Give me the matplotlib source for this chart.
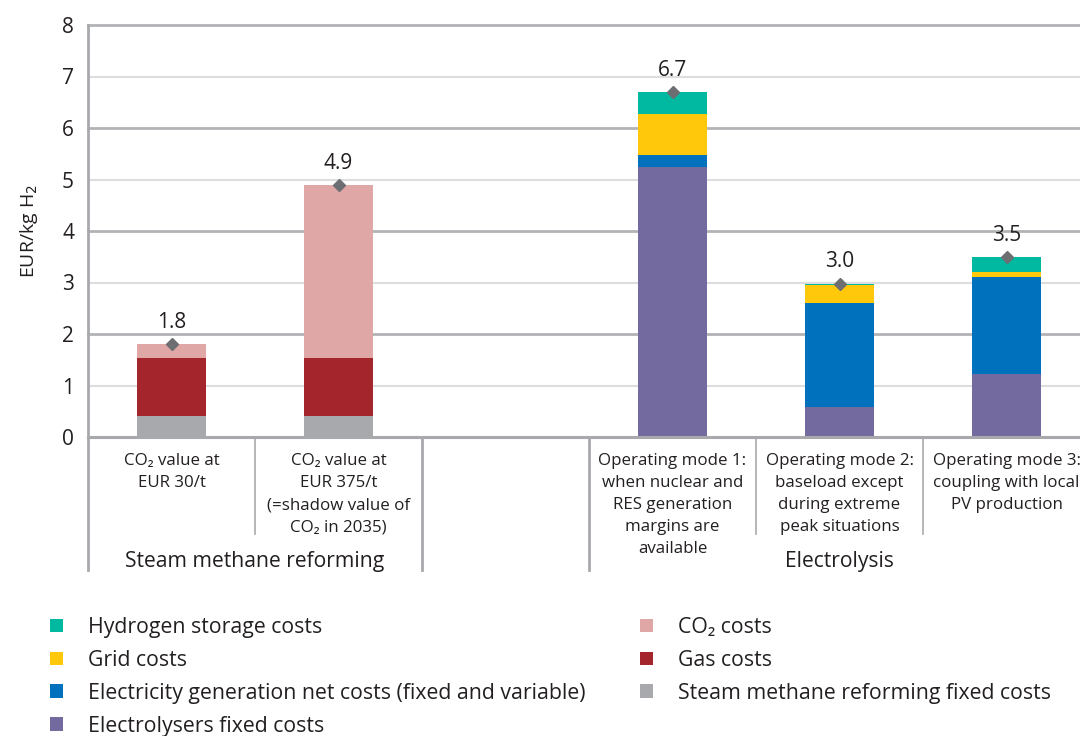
import matplotlib
matplotlib.use("Agg")
import matplotlib.pyplot as plt
from matplotlib.patches import Patch
import numpy as np

plt.rcParams['font.family'] = ['Open Sans', 'DejaVu Sans']

categories = ["CO₂ value at\nEUR 30/t",
              "CO₂ value at\nEUR 375/t\n(=shadow value of\nCO₂ in 2035)",
              "",
              "Operating mode 1:\nwhen nuclear and\nRES generation\nmargins are\navailable",
              "Operating mode 2:\nbaseload except\nduring extreme\npeak situations",
              "Operating mode 3:\ncoupling with local\nPV production"]
groups = ["Steam methane reforming", "Electrolysis"]

smr_fixed     = [0.40, 0.40, 0, 0,    0,    0]
gas           = [1.13, 1.13, 0, 0,    0,    0]
co2           = [0.27, 3.37, 0, 0,    0,    0]
electrolysers = [0,    0,    0, 5.25, 0.58, 1.23]
elec_gen      = [0,    0,    0, 0.22, 2.02, 1.87]
grid          = [0,    0,    0, 0.81, 0.35, 0.10]
storage       = [0,    0,    0, 0.42, 0.03, 0.30]
totals        = [1.8, 4.9, None, 6.7, 3.0, 3.5]

series = [
    ("Steam methane reforming fixed costs", smr_fixed, "#a7a9ac"),
    ("Gas costs", gas, "#a4262c"),
    ("CO₂ costs", co2, "#e0a7a7"),
    ("Electrolysers fixed costs", electrolysers, "#736b9f"),
    ("Electricity generation net costs (fixed and variable)", elec_gen, "#0071bc"),
    ("Grid costs", grid, "#ffc80b"),
    ("Hydrogen storage costs", storage, "#00b9a0"),
]

W, H = 1080, 736
fig = plt.figure(figsize=(W/100, H/100), dpi=100)
ax = fig.add_axes([88/W, 1-437/H, 1-88/W, (437-25)/H])

x = np.arange(len(categories))
bottom = np.zeros(len(categories))
for name, vals, col in series:
    v = np.array(vals, dtype=float)
    ax.bar(x, v, bottom=bottom, width=0.41, color=col, linewidth=0, zorder=3)
    bottom += v

for xi, t in zip(x, totals):
    if t is None:
        continue
    ax.plot(xi, bottom[xi], marker='D', color='#6d6e71', markersize=6.5, zorder=5)
    ax.annotate(f"{t:.1f}", (xi, bottom[xi]), xytext=(0, 8), textcoords='offset points',
                ha='center', va='bottom', fontsize=15, color='#231f20')

ax.set_xlim(-0.5, 5.44)
ax.set_ylim(0, 8)
ax.set_yticks(range(0, 9))
for yv in range(1, 9):
    if yv % 2 == 0:
        ax.axhline(yv, color='#b1b3b6', lw=2.0, zorder=1, clip_on=False)
    else:
        ax.axhline(yv, color='#dcdddf', lw=1.5, zorder=1)
ax.axhline(0, color='#a7a9ac', lw=2.2, zorder=4, clip_on=False)
for s in ['top', 'right', 'bottom', 'left']:
    ax.spines[s].set_visible(False)
ax.set_xticks([])
ax.tick_params(axis='y', length=0, pad=10, labelsize=15, labelcolor='#231f20')
ax.set_ylabel("EUR/kg H$_2$", fontsize=14, color='#231f20', labelpad=16)

trans = ax.get_xaxis_transform()
ylong = -(570-437)/(437-25)
yshort = -(534-437)/(437-25)
for xb, yend in [(-0.5, ylong), (0.5, yshort), (1.5, ylong), (2.5, ylong), (3.5, yshort), (4.5, yshort)]:
    ytop = 1.0 if xb == -0.5 else 0
    ax.plot([xb, xb], [ytop, yend], transform=trans, color='#a7a9ac',
            lw=2.0 if xb in (-0.5, 1.5, 2.5) else 1.2, clip_on=False, zorder=4)

ytxt = -(453-437)/(437-25)
for xi, lab in zip(x, categories):
    if lab:
        ax.text(xi, ytxt, lab, transform=trans, ha='center', va='top', fontsize=12.2,
                color='#231f20', linespacing=1.5)
ygrp = -(561-437)/(437-25)
ax.text(0.5, ygrp, groups[0], transform=trans, ha='center', va='center', fontsize=15.2, color='#231f20')
ax.text(4.0, ygrp, groups[1], transform=trans, ha='center', va='center', fontsize=15.2, color='#231f20')

lookup = {n: c for n, _, c in series}
left_names = ["Hydrogen storage costs", "Grid costs",
              "Electricity generation net costs (fixed and variable)", "Electrolysers fixed costs"]
right_names = ["CO₂ costs", "Gas costs", "Steam methane reforming fixed costs"]
for names, xpos in [(left_names, 50/W), (right_names, 640/W)]:
    handles = [Patch(facecolor=lookup[n], edgecolor='none') for n in names]
    fig.legend(handles, names, loc='upper left', bbox_to_anchor=(xpos, 1-617/H),
               frameon=False, fontsize=15.3, handlelength=0.62, handleheight=0.62,
               handletextpad=1.15, labelspacing=0.56, borderpad=0, borderaxespad=0,
               labelcolor='#231f20')

fig.savefig("out.png", dpi=100)
